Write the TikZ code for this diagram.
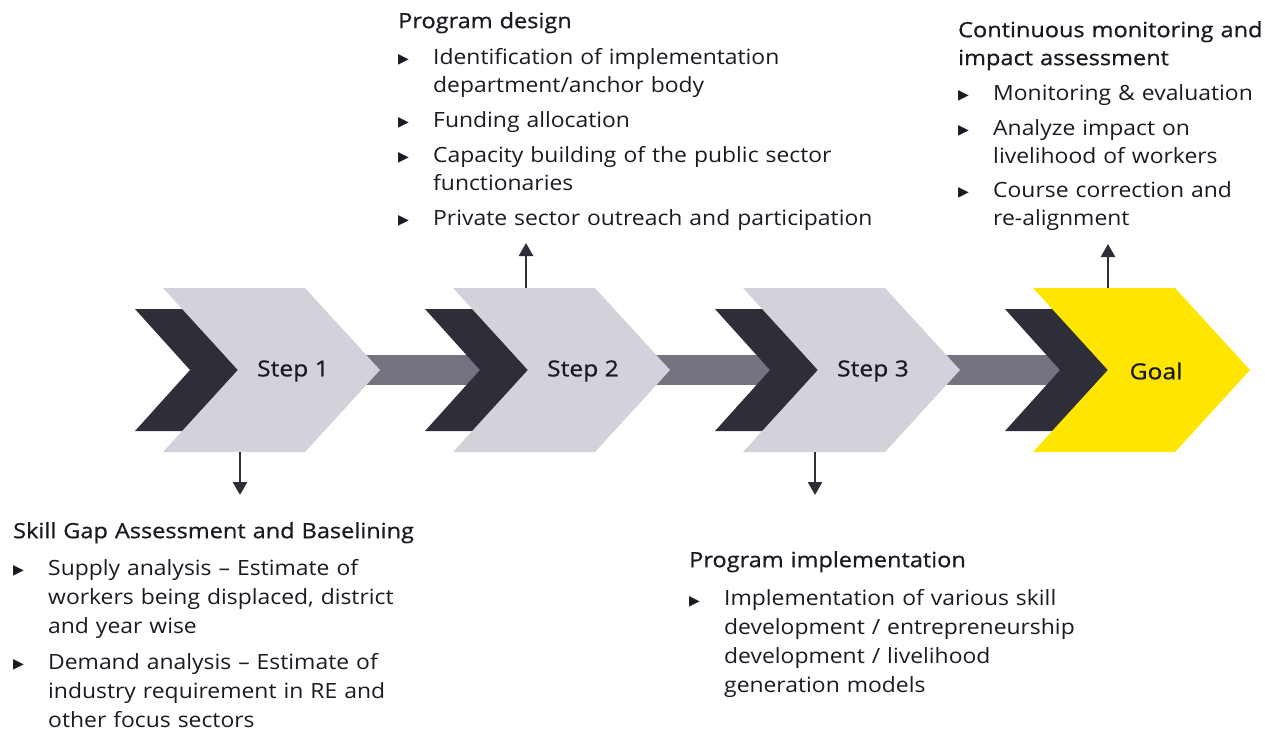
\documentclass[tikz,border=0pt]{standalone}
\usepackage{fontspec}
\setmainfont{Open Sans}[FakeStretch=1.09]
\newfontfamily\headfont{Open Sans}[FakeBold=0.8, FakeStretch=1.12]
\newfontfamily\symfont{DejaVu Sans}
\usetikzlibrary{arrows.meta}
\definecolor{eygray}{HTML}{D2D3DA}
\definecolor{eydark}{HTML}{2E2E38}
\definecolor{eybar}{HTML}{747480}
\definecolor{eyyellow}{HTML}{FFE600}
\definecolor{eytext}{HTML}{1A1A24}
\newcommand{\bmark}{{\symfont\fontsize{14}{14}\selectfont ▶}}
\newcommand{\bitem}[1][7pt]{\par\addvspace{#1}\noindent\hangindent=35pt\hangafter=1\makebox[35pt][l]{\raisebox{0.5pt}{\bmark}}\ignorespaces}
\begin{document}
\begin{tikzpicture}[x=1pt, y=-1pt,
  block/.style = {anchor=north west, inner sep=0, text width=560pt, text=eytext, font=\fontsize{21}{28}\selectfont},
  lowblock/.style = {block, font=\fontsize{21}{29}\selectfont},
  steplabel/.style = {text=eytext, font=\headfont\fontsize{22}{24}\selectfont},
  link/.style = {eydark, line width=2.5pt, -{Triangle[width=14pt,length=13pt]}}]
  \useasboundingbox (0,0) rectangle (1265,732);
  % connecting bars
  \foreach \b in {163,453,743}
    \fill[eybar] (\b+150,355) rectangle (\b+320,385);
  % chevrons
  \foreach \b/\c in {163/eygray, 453/eygray, 743/eygray, 1033/eyyellow} {
    \fill[eydark] (\b-28,309) -- (\b+20,309) -- (\b+75,370) -- (\b+20,431) -- (\b-28,431) -- (\b+27,370) -- cycle;
    \fill[\c] (\b,288) -- (\b+142,288) -- (\b+217,370) -- (\b+142,452) -- (\b,452) -- (\b+75,370) -- cycle;
  }
  \node[steplabel] (s1) at (293,371) {Step 1};
  \node[steplabel] (s2) at (583,371) {Step 2};
  \node[steplabel] (s3) at (873,371) {Step 3};
  \node[steplabel] (goal) at (1156,371) {Goal};

  \node[lowblock] (skill) at (13,522) {\raggedright{\headfont Skill Gap Assessment and Baselining}
    \bitem[8pt] Supply analysis – Estimate of\newline workers being displaced, district\newline and year wise
    \bitem Demand analysis – Estimate of\newline industry requirement in RE and\newline other focus sectors\par};
  \node[block] (design) at (398,12) {\raggedright{\headfont Program design}
    \bitem[8pt] Identification of implementation\newline department/anchor body
    \bitem Funding allocation
    \bitem Capacity building of the public sector\newline functionaries
    \bitem Private sector outreach and participation\par};
  \node[lowblock] (impl) at (689,551) {\raggedright{\headfont Program implementation}
    \bitem[9.5pt] Implementation of various skill\newline development / entrepreneurship\newline development / livelihood\newline generation models\par};
  \node[block] (monitor) at (958,21) {\raggedright{\headfont Continuous monitoring and\\impact assessment}
    \bitem Monitoring \& evaluation
    \bitem Analyze impact on\newline livelihood of workers
    \bitem[6pt] Course correction and\newline re-alignment\par};

  \coordinate (a1) at (240,452);
  \coordinate (e1) at (240,495);
  \coordinate (a2) at (526,288);
  \coordinate (e2) at (526,243);
  \coordinate (a3) at (815,452);
  \coordinate (e3) at (815,495);
  \coordinate (a4) at (1108,288);
  \coordinate (e4) at (1108,244);
  \draw[link] (a1) -- (e1);
  \draw[link] (a2) -- (e2);
  \draw[link] (a3) -- (e3);
  \draw[link] (a4) -- (e4);
\end{tikzpicture}
\end{document}
